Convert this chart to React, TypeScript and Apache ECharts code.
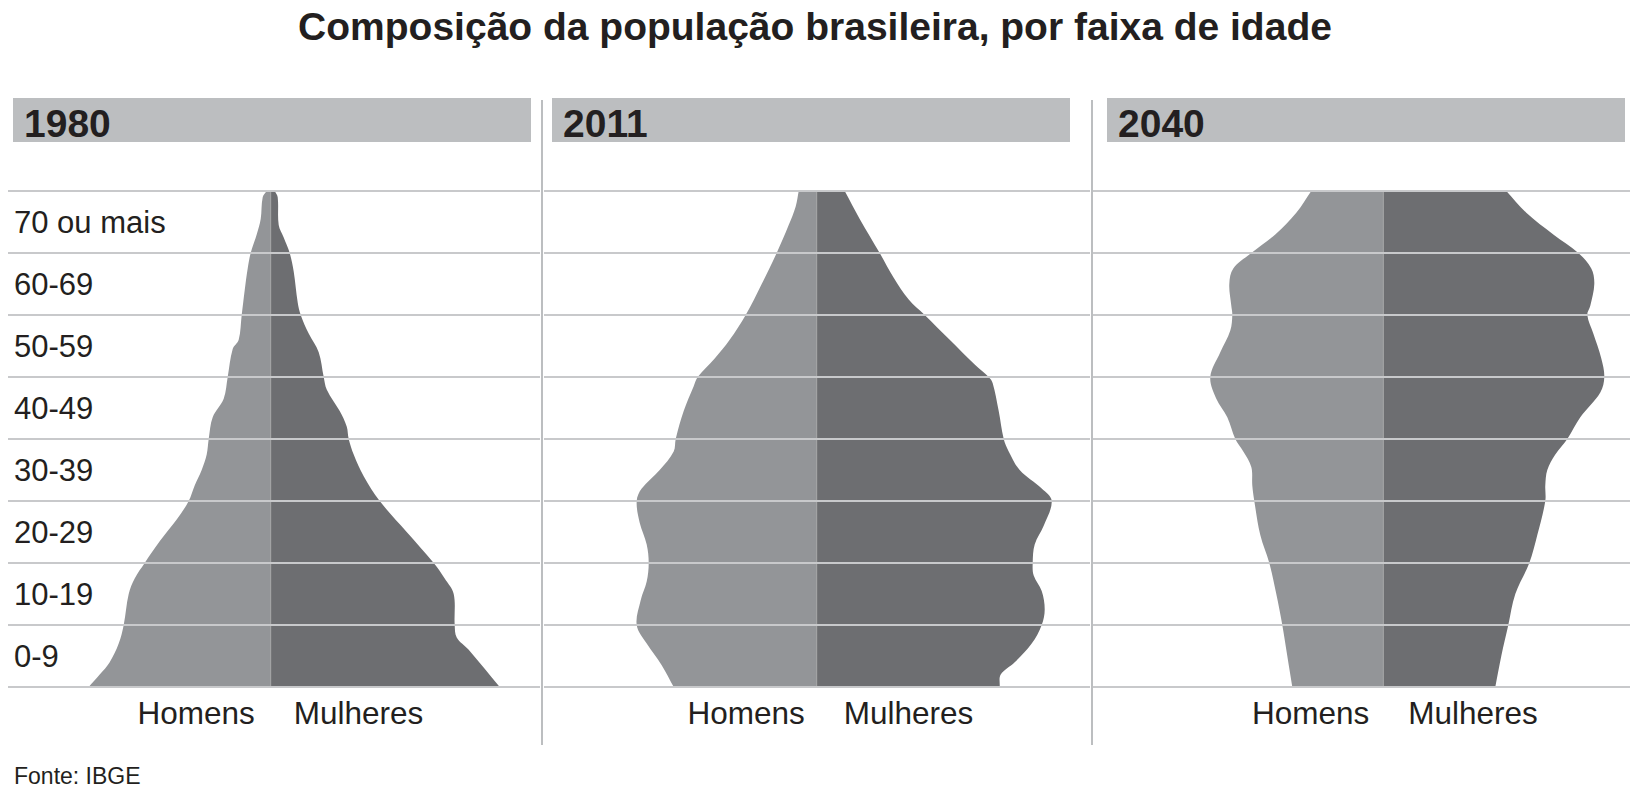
import React, { useEffect, useRef } from 'react';
import * as echarts from 'echarts';

// Faixas etárias (eixo vertical, de baixo para cima)
const faixas = ['0-9', '10-19', '20-29', '30-39', '40-49', '50-59', '60-69', '70 ou mais'];
const anos = ['1980', '2011', '2040'];

// Contorno de cada metade da pirâmide: [idade, largura relativa]
const homens1980 = [
  [0, 182], [2, 171], [4, 161], [7, 152], [10, 147], [15, 142], [17.5, 136], [20, 126],
  [23.5, 111], [27, 94], [30, 82], [32.5, 76], [35, 69], [37.5, 64], [40, 62], [43.5, 58],
  [46.5, 47], [50, 43], [54.5, 38], [56, 32], [60, 29], [64, 26], [67.5, 23], [70, 20],
  [73, 14], [75.5, 10], [79, 8], [80, 4],
];
const mulheres1980 = [
  [0, 229], [6, 198], [8, 186], [10, 184], [15, 183], [17.5, 174], [20, 163], [25, 136],
  [30, 109], [34, 93], [37.5, 83], [40, 78], [42, 76], [44.5, 69], [48, 56], [50, 53],
  [54, 48], [57, 38], [60, 30], [62, 27], [67, 23], [70, 19], [72.5, 13], [74.5, 8],
  [79, 7], [80, 4],
];
const homens2011 = [
  [0, 143], [3.5, 155], [7, 170], [10, 180], [14, 176], [17, 170], [20, 168], [23, 170],
  [26.5, 177], [30, 180], [32, 175], [35, 157], [38, 143], [40, 141], [44.5, 133],
  [48.5, 123], [50, 119], [53, 102], [56, 87], [60, 71], [65, 55], [70, 40], [74.5, 28],
  [77.5, 21], [80, 18],
];
const mulheres2011 = [
  [0, 183], [2, 184], [4, 198], [7, 215], [10, 225], [12.5, 228], [15.5, 225], [18, 217],
  [20, 216], [23, 218], [26, 227], [30, 235], [32, 225], [35, 203], [38, 192], [40, 187],
  [44.5, 182], [49, 176], [50, 172], [52, 158], [56, 133], [60, 108], [62.5, 92], [66, 77],
  [70, 63], [75.5, 43], [80, 28],
];
const homens2040 = [
  [0, 91], [5, 96], [10, 101], [15, 107], [20, 114], [24.5, 123], [30, 129], [32.5, 131],
  [35.5, 132], [38, 140], [40, 148], [43.5, 156], [46.5, 167], [50, 173], [54, 163],
  [57.5, 153], [60, 151], [61.5, 152], [65, 154], [67.5, 150], [70, 132], [73, 108],
  [76.5, 87], [80, 72],
];
const mulheres2040 = [
  [0, 112], [5, 118], [10, 125], [15, 132], [20, 146], [24.5, 154], [30, 162], [32.5, 162],
  [35, 164], [37.5, 172], [40, 184], [43.5, 197], [47.5, 217], [50, 221], [53, 218],
  [57, 210], [60, 204], [61.5, 207], [65, 211], [67.5, 208], [70, 195], [73, 170],
  [76.5, 143], [80, 123],
];

const homens = [homens1980, homens2011, homens2040];
const mulheres = [mulheres1980, mulheres2011, mulheres2040];

// layout dos três painéis (pixels)
const paineis = [
  { left: 8, width: 532, center: 270.7, bar: 13, rotulo: 0 },
  { left: 544, width: 546, center: 816.7, bar: 552, rotulo: 4 },
  { left: 1093, width: 537, center: 1383.3, bar: 1107, rotulo: 2 },
];
const separadores = [542, 1092];

const FONT = '"Liberation Sans", Arial, Helvetica, sans-serif';
const TXT = '#231f20';
const COR_H = '#939598';
const COR_M = '#6d6e71';
const COR_GRADE = '#c8c9cb';

const makeShape = (points: number[][], side: number, color: string, divider: boolean) =>
  (params: any, api: any) => {
    if (params.dataIndex !== 0) return null;
    const b0 = api.coord([0, 0]);
    const b1 = api.coord([0, 80]);
    const outline = points.map(([age, w]) => api.coord([side * w, age]));
    const first = outline[0];
    const last = outline[outline.length - 1];
    // pontos repetidos mantêm os cantos retos com o contorno suavizado
    const pts = [b0, b0, first, ...outline, last, b1, b1];
    const children: any[] = [
      { type: 'polygon', shape: { points: pts, smooth: 0.35 }, style: { fill: color } },
    ];
    if (divider) {
      children.push({
        type: 'line',
        shape: { x1: b0[0], y1: b0[1], x2: b1[0], y2: b1[1] },
        style: { stroke: '#a3a4a6', lineWidth: 1 },
      });
    }
    return { type: 'group', children };
  };

const txt = (text: string, x: number, y: number, size: number, align: string, bold = false) => ({
  type: 'text',
  x,
  y,
  style: {
    text,
    fill: TXT,
    fontSize: size,
    fontWeight: bold ? 'bold' : 'normal',
    fontFamily: FONT,
    textAlign: align,
    align,
    textVerticalAlign: 'middle',
    verticalAlign: 'middle',
  },
});

const App: React.FC = () => {
  const chartRef = useRef<HTMLDivElement>(null);

  useEffect(() => {
    if (!chartRef.current) return;
    const chart = echarts.init(chartRef.current, undefined, { renderer: 'svg' });

    const grid = paineis.map(p => ({ left: p.left, top: 191, width: p.width, height: 496 }));
    const xAxis = paineis.map((p, i) => ({
      type: 'value',
      gridIndex: i,
      min: p.left - p.center,
      max: p.left + p.width - p.center,
      show: false,
    }));
    const yAxis: any[] = [];
    paineis.forEach((_, i) => {
      yAxis.push({ type: 'value', gridIndex: i, position: 'left', min: 0, max: 80, show: false });
      yAxis.push({
        type: 'category',
        gridIndex: i,
        position: 'left',
        data: faixas,
        boundaryGap: true,
        z: 5,
        axisLine: { show: false },
        axisTick: { show: false },
        splitLine: { show: true, interval: 0, lineStyle: { color: COR_GRADE, width: 2 } },
        axisLabel: {
          show: i === 0,
          inside: true,
          interval: 0,
          margin: 6,
          color: TXT,
          fontSize: 31,
          fontFamily: FONT,
        },
      });
    });

    const series: any[] = [];
    paineis.forEach((_, i) => {
      series.push({
        type: 'custom',
        name: 'Homens ' + anos[i],
        xAxisIndex: i,
        yAxisIndex: i * 2,
        renderItem: makeShape(homens[i], -1, COR_H, false),
        data: homens[i].map(([a, w]) => [-w, a]),
      });
      series.push({
        type: 'custom',
        name: 'Mulheres ' + anos[i],
        xAxisIndex: i,
        yAxisIndex: i * 2,
        renderItem: makeShape(mulheres[i], 1, COR_M, true),
        data: mulheres[i].map(([a, w]) => [w, a]),
      });
    });

    const graphic: any[] = [
      txt('Composição da população brasileira, por faixa de idade', 815, 26.5, 39, 'center', true),
      txt('Fonte: IBGE', 14, 776, 23, 'left'),
    ];
    separadores.forEach(x => {
      graphic.push({
        type: 'line',
        shape: { x1: x, y1: 100, x2: x, y2: 745 },
        style: { stroke: '#bcbec0', lineWidth: 2 },
      });
    });
    paineis.forEach((p, i) => {
      graphic.push({
        type: 'rect',
        shape: { x: p.bar, y: 98, width: 518, height: 44 },
        style: { fill: '#bcbec0' },
      });
      graphic.push(txt(anos[i], p.bar + 11, 123.5, 39, 'left', true));
      graphic.push(txt('Homens', p.center - 16 + p.rotulo, 712.5, 31.5, 'right'));
      graphic.push(txt('Mulheres', p.center + 23 + p.rotulo, 712.5, 31.5, 'left'));
    });

    chart.setOption({
      animation: false,
      backgroundColor: '#ffffff',
      grid,
      xAxis,
      yAxis,
      series,
      graphic,
    });

    return () => {
      chart.dispose();
    };
  }, []);

  return (
    <div
      ref={chartRef}
      style={{ position: 'fixed', left: 0, top: 0, width: '1639px', height: '799px', background: '#fff' }}
    />
  );
};

export default App;
